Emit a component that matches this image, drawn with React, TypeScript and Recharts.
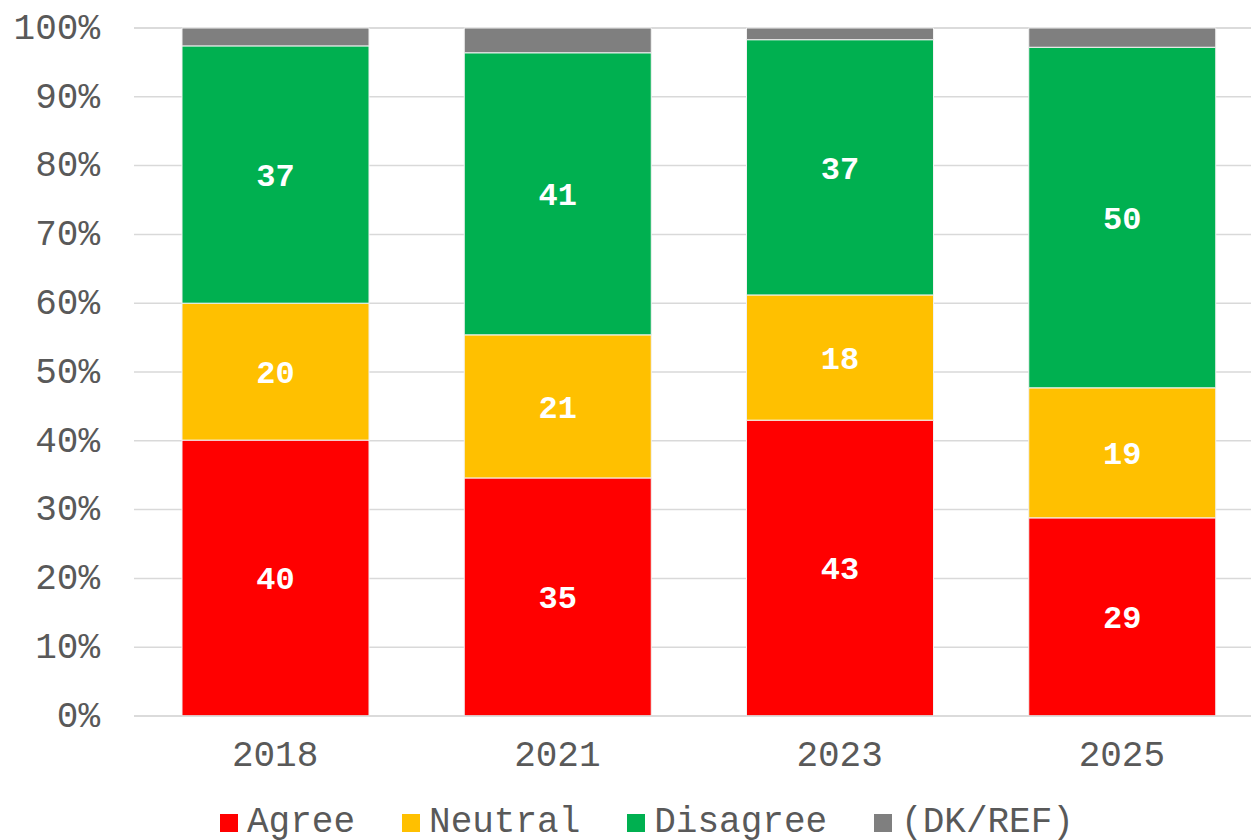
import {
  BarChart,
  Bar,
  XAxis,
  YAxis,
  CartesianGrid,
  Legend,
  LabelList,
} from 'recharts';

const categories = ['2018', '2021', '2023', '2025'];
const agree = [40.1, 34.6, 43.0, 28.8];
const neutral = [19.9, 20.8, 18.2, 18.9];
const disagree = [37.4, 41.0, 37.1, 49.5];
const dkRef = [2.6, 3.6, 1.7, 2.8];
const yTicks = [0, 10, 20, 30, 40, 50, 60, 70, 80, 90, 100];

const SERIES = [
  { key: 'agree', name: 'Agree', color: '#ff0000', label: true },
  { key: 'neutral', name: 'Neutral', color: '#ffc000', label: true },
  { key: 'disagree', name: 'Disagree', color: '#00b050', label: true },
  { key: 'dk', name: '(DK/REF)', color: '#7f7f7f', label: false },
];

const data = categories.map((year, i) => ({
  year,
  agree: agree[i],
  neutral: neutral[i],
  disagree: disagree[i],
  dk: dkRef[i],
}));

const FONT = '"Liberation Mono", "Courier New", monospace';
const TEXT = '#595959';

// leyenda propia: cuadrado + texto, centrada bajo el gráfico
function ChartLegend() {
  return (
    <div
      style={{
        display: 'flex',
        alignItems: 'center',
        boxSizing: 'border-box',
        height: 40,
        paddingTop: 6,
        paddingLeft: 220,
        fontFamily: FONT,
        fontSize: 36,
        lineHeight: '30px',
        color: TEXT,
        whiteSpace: 'nowrap',
      }}
    >
      {SERIES.map((s) => (
        <div key={s.key} style={{ display: 'flex', alignItems: 'center', marginRight: 47 }}>
          <span style={{ width: 18, height: 18, background: s.color, marginRight: 9 }} />
          <span style={{ lineHeight: '30px' }}>{s.name}</span>
        </div>
      ))}
    </div>
  );
}

export default function App() {
  return (
    <div
      style={{
        position: 'absolute',
        left: 0,
        top: 0,
        width: 1251,
        height: 840,
        overflow: 'hidden',
        background: '#fff',
      }}
    >
      <BarChart
        width={1263}
        height={840}
        data={data}
        margin={{ top: 28, right: 0, left: 0, bottom: 0 }}
      >
        <CartesianGrid vertical={false} stroke="#d9d9d9" strokeWidth={1.5} />
        <XAxis
          dataKey="year"
          height={84}
          axisLine={{ stroke: '#d9d9d9', strokeWidth: 1.5 }}
          tickLine={false}
          tickMargin={18}
          tick={{ fontFamily: FONT, fontSize: 36, fill: TEXT }}
        />
        <YAxis
          width={134}
          domain={[0, 100]}
          ticks={yTicks}
          interval={0}
          axisLine={false}
          tickLine={false}
          tickMargin={28}
          tickFormatter={(v: number) => `${v}%`}
          tick={{ fontFamily: FONT, fontSize: 36, fill: TEXT, dy: -2 }}
        />
        <Legend verticalAlign="bottom" content={() => <ChartLegend />} />
        {SERIES.map((s) => (
          <Bar
            key={s.key}
            dataKey={s.key}
            name={s.name}
            stackId="a"
            fill={s.color}
            stroke="#f2f2f2"
            strokeWidth={1}
            barSize={187}
            isAnimationActive={false}
          >
            {s.label && (
              <LabelList
                dataKey={s.key}
                position="center"
                formatter={(v: number) => Math.round(v)}
                style={{ fontFamily: FONT, fontSize: 32, fontWeight: 'bold', fill: '#ffffff' }}
              />
            )}
          </Bar>
        ))}
      </BarChart>
    </div>
  );
}
